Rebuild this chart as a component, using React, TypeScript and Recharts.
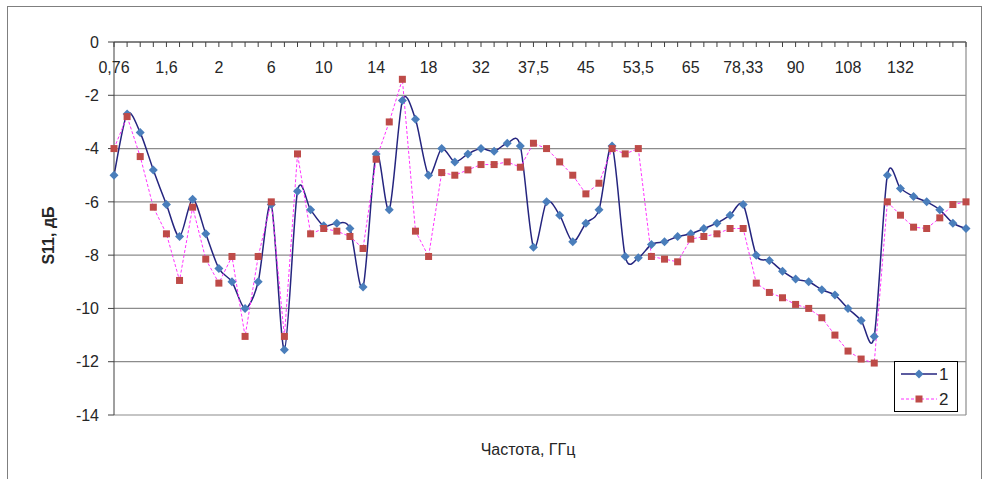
import React from 'react';
import { ComposedChart, Line, XAxis, YAxis, CartesianGrid, Legend } from 'recharts';

// labels shown on every 4th frequency point
const tickLabels = ['0,76', '1,6', '2', '6', '10', '14', '18', '32', '37,5', '45', '53,5', '65', '78,33', '90', '108', '132'];

const series1 = [
  -5.0, -2.7, -3.4, -4.8, -6.1, -7.3, -5.9, -7.2, -8.5, -9.0, -10.0, -9.0, -6.1, -11.55, -5.6, -6.3,
  -6.9, -6.8, -7.0, -9.2, -4.2, -6.3, -2.2, -2.9, -5.0, -4.0, -4.5, -4.2, -4.0, -4.1, -3.8, -3.9,
  -7.7, -6.0, -6.5, -7.5, -6.8, -6.3, -3.9, -8.05, -8.1, -7.6, -7.5, -7.3, -7.2, -7.0, -6.8, -6.5,
  -6.1, -8.0, -8.2, -8.6, -8.9, -9.0, -9.3, -9.5, -10.0, -10.45, -11.05, -5.0, -5.5, -5.8, -6.0, -6.3,
  -6.8, -7.0,
];

const series2 = [
  -4.0, -2.8, -4.3, -6.2, -7.2, -8.95, -6.2, -8.15, -9.05, -8.05, -11.05, -8.05, -6.0, -11.05, -4.2, -7.2,
  -7.0, -7.1, -7.3, -7.75, -4.4, -3.0, -1.4, -7.1, -8.05, -4.9, -5.0, -4.8, -4.6, -4.6, -4.5, -4.7,
  -3.8, -4.0, -4.5, -5.0, -5.7, -5.3, -4.0, -4.2, -4.0, -8.05, -8.15, -8.25, -7.4, -7.3, -7.2, -7.0,
  -7.0, -9.05, -9.4, -9.6, -9.85, -10.0, -10.35, -11.0, -11.6, -11.9, -12.05, -6.0, -6.5, -6.95, -7.0, -6.6,
  -6.1, -6.0,
];

const yTicks = [0, -2, -4, -6, -8, -10, -12, -14];

const data = series1.map((v, i) => ({ n: i, s1: v, s2: series2[i] }));

const FONT = '"Liberation Sans", Arial, sans-serif';
const TEXT = '#262626';
const BLUE_LINE = '#25257f';
const BLUE_DOT = '#4a7ebb';
const PINK_LINE = '#ff33ff';
const RED_DOT = '#be4b48';

// Excel-like smoothed line (catmull-rom through the points)
const excelSmooth = (context: any) => {
  let pts: number[][] = [];
  return {
    areaStart() {},
    areaEnd() {},
    lineStart() { pts = []; },
    point(x: number, y: number) { pts.push([+x, +y]); },
    lineEnd() {
      const n = pts.length;
      if (!n) return;
      const k = 7;
      context.moveTo(pts[0][0], pts[0][1]);
      for (let i = 0; i < n - 1; i++) {
        const p0 = pts[Math.max(i - 1, 0)];
        const p1 = pts[i];
        const p2 = pts[i + 1];
        const p3 = pts[Math.min(i + 2, n - 1)];
        context.bezierCurveTo(
          p1[0] + (p2[0] - p0[0]) / k, p1[1] + (p2[1] - p0[1]) / k,
          p2[0] - (p3[0] - p1[0]) / k, p2[1] - (p3[1] - p1[1]) / k,
          p2[0], p2[1],
        );
      }
    },
  };
};

const Diamond = ({ cx, cy }: { cx: number; cy: number }) => (
  <polygon points={`${cx},${cy - 4.5} ${cx + 4.5},${cy} ${cx},${cy + 4.5} ${cx - 4.5},${cy}`} fill={BLUE_DOT} />
);

const Square = ({ cx, cy }: { cx: number; cy: number }) => (
  <rect x={cx - 3.5} y={cy - 3.5} width={7} height={7} fill={RED_DOT} />
);

const FreqTick = (props: any) => {
  const { x, y, payload } = props;
  const half = payload?.offset ?? 0;
  const axisY = y - 19;
  const v = payload.value;
  const label = v % 4 === 0 ? tickLabels[v / 4] : '';
  return (
    <g>
      <line x1={x - half} x2={x - half} y1={axisY} y2={axisY + 5} stroke="#404040" />
      {label && (
        <text x={x} y={y} dy={12} textAnchor="middle" fontSize={16} fontFamily={FONT} fill={TEXT}>
          {label}
        </text>
      )}
    </g>
  );
};

const YTitle = (props: any) => {
  const vb = props.viewBox || { x: 0, y: 42, width: 114, height: 373 };
  const cx = vb.x + 48;
  const cy = vb.y + vb.height / 2 + 7;
  return (
    <text
      transform={`translate(${cx},${cy}) rotate(-90)`}
      textAnchor="middle"
      dominantBaseline="central"
      fontSize={16}
      fontWeight="bold"
      fontFamily={FONT}
      fill={TEXT}
    >
      S11, дБ
    </text>
  );
};

const LegendBox = (props: any) => {
  const items = props.payload || [];
  return (
    <svg width={65} height={52} style={{ display: 'block' }}>
      <rect x={0.5} y={0.5} width={63} height={50} fill="#fff" stroke="#000" />
      {items.map((it: any, i: number) => {
        const cy = 13 + i * 25;
        const first = i === 0;
        return (
          <g key={String(it.value)}>
            <line
              x1={7}
              x2={43}
              y1={cy}
              y2={cy}
              stroke={first ? BLUE_LINE : PINK_LINE}
              strokeWidth={first ? 1.5 : 1}
              strokeDasharray={first ? undefined : '3 2'}
            />
            {first ? <Diamond cx={25} cy={cy} /> : <Square cx={25} cy={cy} />}
            <text x={45} y={cy} dy={6} fontSize={17} fontFamily={FONT} fill={TEXT}>
              {it.value}
            </text>
          </g>
        );
      })}
    </svg>
  );
};

export default function App() {
  return (
    <div
      style={{
        position: 'absolute',
        left: 0,
        top: 0,
        width: 986,
        height: 479,
        overflow: 'hidden',
        background: '#fff',
        fontFamily: FONT,
      }}
    >
      <div style={{ position: 'absolute', left: 0, top: 0 }}>
        <ComposedChart width={986} height={479} data={data} margin={{ top: 42, right: 20, bottom: 64, left: 0 }}>
          <CartesianGrid vertical={false} stroke="#8c8c8c" strokeWidth={1.2} />
          <XAxis
            dataKey="n"
            type="category"
            orientation="top"
            mirror
            interval={0}
            tickSize={5}
            tickMargin={14}
            tickLine={false}
            tick={<FreqTick />}
            axisLine={{ stroke: '#404040' }}
          />
          <YAxis
            domain={[-14, 0]}
            ticks={yTicks}
            width={114}
            tickSize={6}
            tickMargin={9}
            tick={{ fontSize: 16, fill: TEXT, fontFamily: FONT }}
            tickLine={{ stroke: '#404040' }}
            axisLine={{ stroke: '#404040' }}
            label={<YTitle />}
          />
          <YAxis
            yAxisId="frame"
            orientation="right"
            mirror
            domain={[-14, 0]}
            tick={false}
            tickLine={false}
            axisLine={{ stroke: '#8c8c8c', strokeWidth: 1.2 }}
          />
          <Legend
            layout="horizontal"
            verticalAlign="middle"
            align="center"
            content={<LegendBox />}
            wrapperStyle={{ left: 894, top: 361, width: 65, height: 52 }}
          />
          <Line
            name="1"
            dataKey="s1"
            type={excelSmooth as any}
            stroke={BLUE_LINE}
            strokeWidth={1.5}
            dot={(p: any) => <Diamond key={`d${p.index}`} cx={p.cx} cy={p.cy} />}
            activeDot={false}
            isAnimationActive={false}
          />
          <Line
            name="2"
            dataKey="s2"
            type="linear"
            stroke={PINK_LINE}
            strokeWidth={1}
            strokeDasharray="3 2"
            dot={(p: any) => <Square key={`s${p.index}`} cx={p.cx} cy={p.cy} />}
            activeDot={false}
            isAnimationActive={false}
          />
        </ComposedChart>
      </div>
      <div
        style={{
          position: 'absolute',
          left: 428,
          top: 440,
          width: 200,
          textAlign: 'center',
          fontSize: 16,
          lineHeight: '20px',
          color: TEXT,
        }}
      >
        Частота, ГГц
      </div>
      <div
        style={{
          position: 'absolute',
          left: 7,
          top: 6,
          width: 973,
          height: 520,
          border: '1px solid #7f7f7f',
          pointerEvents: 'none',
          zIndex: 2,
        }}
      />
    </div>
  );
}
